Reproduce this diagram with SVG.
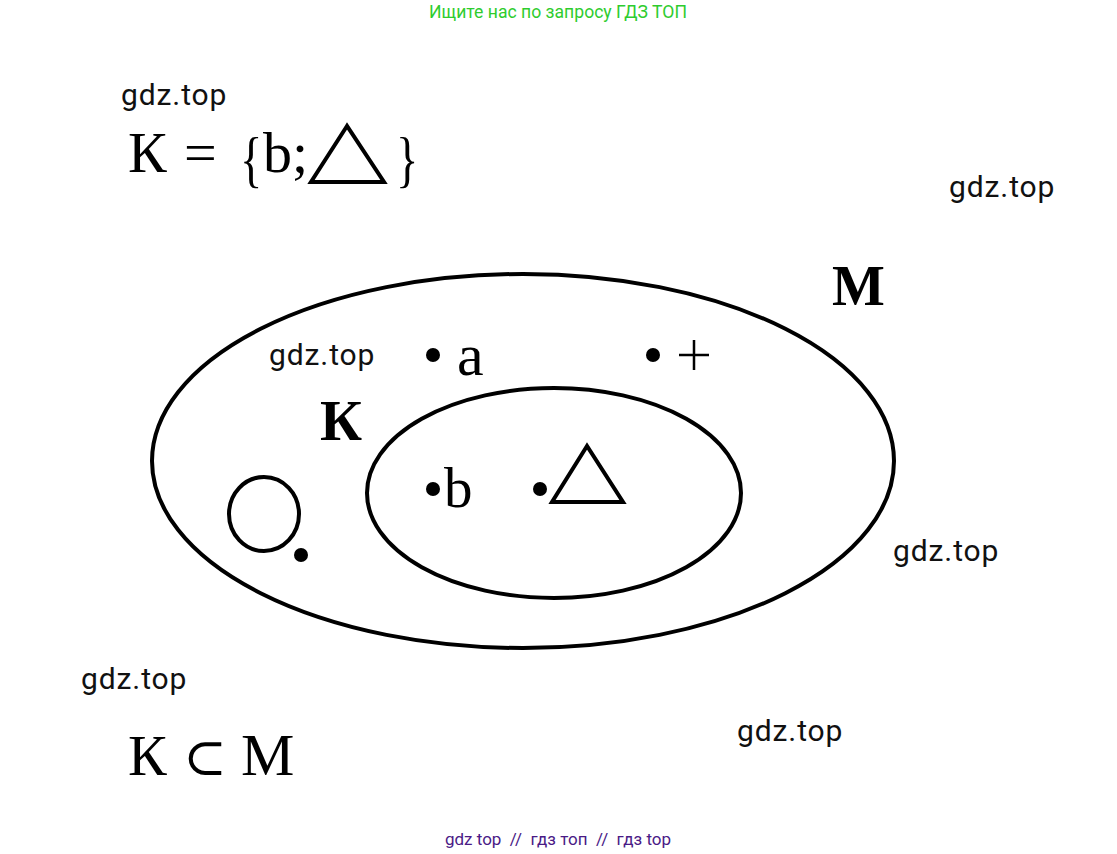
<svg xmlns="http://www.w3.org/2000/svg" width="1117" height="854" viewBox="0 0 1117 854">
<style>
.wm{font-family:Roboto,"Liberation Sans",sans-serif;font-size:30px;fill:#111;letter-spacing:0.9px}
.tm{font-family:"Liberation Serif","DejaVu Serif",serif;fill:#000}
.ln{fill:none;stroke:#000;stroke-width:4}
.dot{fill:#000}
</style>
<rect width="1117" height="854" fill="#fff"/>
<text x="558" y="18" text-anchor="middle" font-family="Roboto,'Liberation Sans',sans-serif" font-size="17.6" fill="#2ecc2e">Ищите нас по запросу ГДЗ ТОП</text>
<text x="558" y="845" text-anchor="middle" font-family="Roboto,'Liberation Sans',sans-serif" font-size="17" fill="#4a1a86" xml:space="preserve">gdz top  //  гдз топ  //  гдз top</text>

<g id="formula-top">
<text class="tm" x="128" y="172" font-size="58">К</text>
<text class="tm" x="184" y="172" font-size="58">=</text>
<text class="tm" font-size="62" transform="translate(240,180) scale(0.75,1)">{</text>
<text class="tm" x="263" y="172" font-size="58">b;</text>
<polygon class="ln" points="347,126 311,182 384,182"/>
<text class="tm" font-size="62" transform="translate(396,180) scale(0.75,1)">}</text>
</g>

<g id="formula-bottom">
<text class="tm" x="128" y="775" font-size="58">К</text>
<text class="tm" x="183" y="775" font-size="52">⊂</text>
<text class="tm" x="241" y="775" font-size="60">М</text>
</g>

<g id="set-M">
<ellipse class="ln" cx="523" cy="461" rx="371" ry="187"/>
<text class="tm" x="832" y="305" font-size="56" font-weight="bold">М</text>
</g>

<g id="set-K">
<ellipse class="ln" cx="554" cy="493" rx="187" ry="105"/>
<text class="tm" x="320" y="440" font-size="58" font-weight="bold">К</text>
</g>

<g id="elem-a">
<circle class="dot" cx="433" cy="355" r="7"/>
<text class="tm" x="457" y="375" font-size="60">a</text>
</g>
<g id="elem-plus">
<circle class="dot" cx="653" cy="355" r="7"/>
<path d="M679,355 H709 M694,340 V370" stroke="#000" stroke-width="2.5" fill="none"/>
</g>
<g id="elem-b">
<circle class="dot" cx="433" cy="489" r="7"/>
<text class="tm" x="444" y="507" font-size="57">b</text>
</g>
<g id="elem-triangle">
<circle class="dot" cx="540" cy="489" r="7"/>
<polygon class="ln" points="587,446 552,502 623,502"/>
</g>
<g id="elem-circle">
<ellipse class="ln" cx="264" cy="514" rx="35" ry="37"/>
<circle class="dot" cx="301" cy="555" r="7"/>
</g>

<g id="connectors"></g>

<g id="watermarks">
<text class="wm" x="121" y="105">gdz.top</text>
<text class="wm" x="949" y="197">gdz.top</text>
<text class="wm" x="269" y="365">gdz.top</text>
<text class="wm" x="893" y="561">gdz.top</text>
<text class="wm" x="81" y="689">gdz.top</text>
<text class="wm" x="737" y="741">gdz.top</text>
</g>
</svg>
